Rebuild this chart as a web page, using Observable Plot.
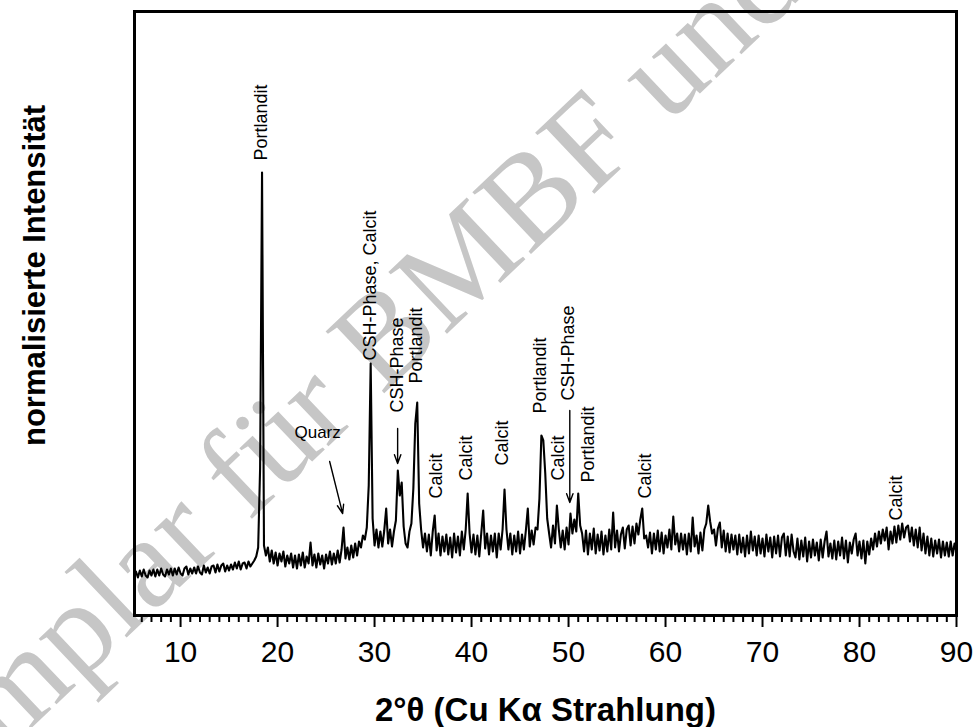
<!DOCTYPE html>
<html>
<head>
<meta charset="utf-8">
<script src="https://cdn.jsdelivr.net/npm/d3@7"></script>
<script src="https://cdn.jsdelivr.net/npm/@observablehq/plot@0.6"></script>
<style>
  html, body { margin: 0; padding: 0; background: #fff; }
</style>
</head>
<body>
<div id="chart"></div>
<script>
// 2θ grid of the scan
const startTwoTheta = 5.4;
const stepTwoTheta = 0.2;

// normalised intensity (arbitrary units), one value per 0.2° from 5.4° to 90°
const intensity = [
  42, 36, 43, 37, 44, 38, 36, 43, 38, 44,
  37, 44, 38, 45, 39, 37, 44, 39, 45, 38,
  45, 39, 46, 40, 38, 45, 47, 39, 45, 40,
  46, 40, 47, 41, 39, 48, 41, 46, 40, 47,
  48, 41, 49, 42, 48, 50, 42, 48, 43, 49,
  44, 51, 45, 52, 44, 50, 51, 45, 52, 47,
  50, 53, 57, 66, 145, 441, 68, 58, 66, 52,
  63, 50, 61, 48, 60, 52, 62, 47, 58, 50,
  60, 46, 58, 45, 59, 48, 61, 46, 57, 50,
  71, 48, 59, 46, 60, 49, 58, 45, 59, 50,
  62, 49, 60, 50, 63, 51, 64, 86, 55, 66,
  54, 68, 56, 70, 58, 72, 66, 78, 74, 86,
  128, 250, 95, 68, 84, 66, 82, 67, 83, 105,
  70, 84, 67, 82, 93, 143, 118, 131, 87, 70,
  66, 82, 90, 125, 190, 211, 110, 84, 66, 80,
  62, 79, 58, 82, 98, 63, 80, 58, 77, 62,
  79, 59, 76, 56, 80, 61, 77, 58, 82, 64,
  84, 120, 80, 61, 79, 59, 78, 57, 80, 103,
  65, 80, 59, 78, 62, 80, 56, 80, 64, 84,
  124, 84, 64, 80, 59, 78, 62, 82, 60, 79,
  64, 83, 105, 67, 83, 69, 86, 84, 115, 178,
  173, 140, 95, 80, 66, 88, 70, 108, 84, 66,
  83, 64, 86, 69, 100, 80, 94, 82, 120, 88,
  80, 62, 83, 59, 80, 64, 85, 60, 79, 63,
  82, 59, 78, 62, 84, 64, 101, 66, 83, 62,
  79, 86, 65, 84, 88, 68, 87, 70, 90, 79,
  94, 105, 75, 78, 66, 81, 60, 80, 64, 83,
  62, 81, 60, 78, 66, 84, 64, 97, 69, 80,
  62, 80, 64, 79, 59, 80, 62, 96, 67, 78,
  60, 81, 63, 84, 90, 108, 92, 80, 84, 68,
  85, 91, 66, 83, 62, 80, 61, 79, 64, 78,
  59, 79, 61, 76, 57, 78, 60, 82, 63, 77,
  58, 78, 60, 75, 57, 79, 62, 76, 56, 77,
  60, 78, 57, 76, 80, 58, 77, 57, 79, 62,
  56, 75, 54, 73, 57, 76, 52, 72, 56, 74,
  58, 71, 53, 74, 56, 72, 82, 57, 70, 55,
  73, 54, 72, 58, 76, 55, 73, 51, 71, 60,
  74, 80, 58, 72, 55, 73, 50, 72, 59, 75,
  64, 80, 67, 82, 70, 84, 73, 86, 64, 82,
  70, 87, 71, 88, 74, 90, 76, 86, 88, 72,
  86, 68, 84, 66, 86, 63, 80, 60, 77, 58,
  75, 57, 73, 60, 74, 56, 72, 58, 71, 57,
  72, 58, 70, 61
];

// axis ticks
const majorTicks = [10, 20, 30, 40, 50, 60, 70, 80, 90];
const minorTicks = [6,7,8,9,11,12,13,14,15,16,17,18,19,21,22,23,24,25,26,27,28,29,
  31,32,33,34,35,36,37,38,39,41,42,43,44,45,46,47,48,49,51,52,53,54,55,56,57,58,59,
  61,62,63,64,65,66,67,68,69,71,72,73,74,75,76,77,78,79,81,82,83,84,85,86,87,88,89];

// phase annotations (vertical labels)
const labelText = ["Portlandit", "CSH-Phase, Calcit", "CSH-Phase", "Portlandit", "Calcit", "Calcit",
  "Calcit", "Portlandit", "Calcit", "CSH-Phase", "Portlandit", "Calcit", "Calcit"];
const labelAt = [18.36, 29.6, 32.38, 34.34, 36.4, 39.5, 43.2, 47.1, 48.9, 50.0, 52.0, 57.9, 83.75];
const labelBase = [453, 253, 201, 230, 115, 133, 148, 200, 133, 213, 131, 115, 93];

// Quarz label (horizontal) and arrows
const quarzText = ["Quarz"];
const quarzAt = [24.13];
const quarzLevel = [181];
const arrowX1 = [25.37, 32.38, 50.13];
const arrowY1 = [152, 185, 203];
const arrowX2 = [26.71, 32.38, 50.13];
const arrowY2 = [100, 150, 111];

const xTitle = "2°θ (Cu Kα Strahlung)";
const yTitle = "normalisierte Intensität";
const watermark = "Exemplar für BMBF und";

const sans = "'Liberation Sans', Arial, Helvetica, sans-serif";

const chart = Plot.plot({
  width: 977,
  height: 727,
  marginLeft: 134,
  marginRight: 21,
  marginTop: 11,
  marginBottom: 112,
  style: { fontFamily: sans, background: "#fff", color: "#000" },
  x: { domain: [5.25, 90], label: null },
  y: { domain: [-2, 602], axis: null, label: null },
  marks: [
    Plot.text([watermark], {
      text: d => d, frameAnchor: "top-left", dx: 170, dy: 400, rotate: -43.5,
      fontSize: 130, fontFamily: "'Liberation Serif', 'Times New Roman', serif",
      fill: "#c6c6c6", textAnchor: "middle", lineAnchor: "middle"
    }),
    Plot.line(intensity, {
      x: (d, i) => startTwoTheta + i * stepTwoTheta,
      y: d => d,
      stroke: "#000", strokeWidth: 2.1
    }),
    Plot.text(labelText, {
      text: d => d, x: (d, i) => labelAt[i], y: (d, i) => labelBase[i],
      rotate: -90, textAnchor: "start", lineAnchor: "middle",
      fontSize: 18, fill: "#000"
    }),
    Plot.text(quarzText, {
      text: d => d, x: (d, i) => quarzAt[i], y: (d, i) => quarzLevel[i],
      textAnchor: "middle", lineAnchor: "middle", fontSize: 17, fill: "#000"
    }),
    Plot.arrow(arrowX1, {
      x1: (d, i) => arrowX1[i], y1: (d, i) => arrowY1[i],
      x2: (d, i) => arrowX2[i], y2: (d, i) => arrowY2[i],
      stroke: "#000", strokeWidth: 1.4, headLength: 10, headAngle: 40
    }),
    Plot.frame({ stroke: "#000", strokeWidth: 3 }),
    Plot.axisX(minorTicks, {
      tickSize: 7, strokeWidth: 2, tickFormat: () => "", label: null
    }),
    Plot.axisX(majorTicks, {
      tickSize: 12, tickPadding: 13, strokeWidth: 2, fontSize: 30,
      tickFormat: d => String(d), label: null, fill: "#000"
    }),
    Plot.text([xTitle], {
      text: d => d, frameAnchor: "bottom", dy: 95,
      fontSize: 33, fontWeight: "bold", textAnchor: "middle", lineAnchor: "middle"
    }),
    Plot.text([yTitle], {
      text: d => d, frameAnchor: "left", dx: -99, dy: -38, rotate: -90,
      fontSize: 31, fontWeight: "bold", textAnchor: "middle", lineAnchor: "middle"
    })
  ]
});

document.getElementById("chart").appendChild(chart);
</script>
</body>
</html>
